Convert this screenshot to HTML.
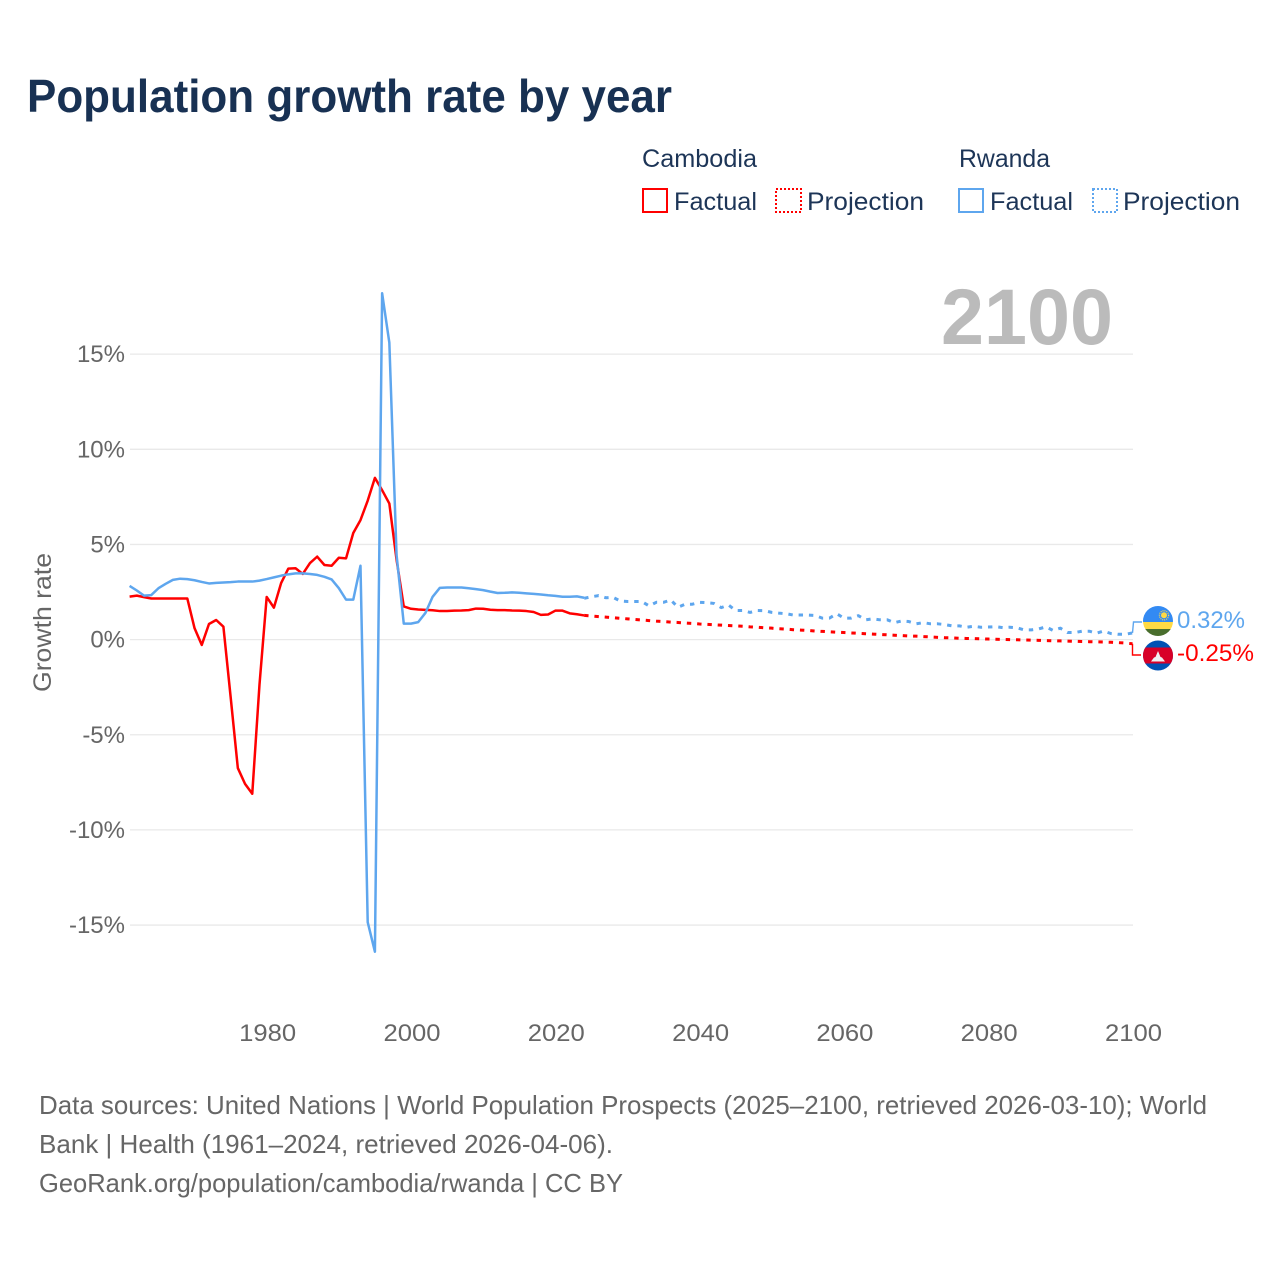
<!DOCTYPE html>
<html lang="en">
<head>
<meta charset="utf-8">
<title>Population growth rate by year</title>
<style>
html,body{margin:0;padding:0;background:#fff;width:1280px;height:1280px;overflow:hidden}
svg{display:block;font-family:"Liberation Sans",sans-serif}
</style>
</head>
<body>
<svg id="chart" xmlns="http://www.w3.org/2000/svg" width="1280" height="1280" viewBox="0 0 1280 1280">
  <rect x="0" y="0" width="1280" height="1280" fill="#fff"/>
  <text x="27" y="112" font-size="46" font-weight="700" fill="#183153" textLength="645" lengthAdjust="spacingAndGlyphs">Population growth rate by year</text>

  <g font-size="25" fill="#1d3557">
    <text x="642" y="167" textLength="115" lengthAdjust="spacingAndGlyphs">Cambodia</text>
    <text x="959" y="167" textLength="91" lengthAdjust="spacingAndGlyphs">Rwanda</text>
    <rect x="643" y="189" width="24" height="23" fill="none" stroke="#ff0000" stroke-width="2"/>
    <text x="674" y="210" textLength="83" lengthAdjust="spacingAndGlyphs">Factual</text>
    <rect x="776" y="189" width="25" height="23" fill="none" stroke="#ff0000" stroke-width="2" stroke-dasharray="2 2"/>
    <text x="807" y="210" textLength="117" lengthAdjust="spacingAndGlyphs">Projection</text>
    <rect x="959" y="189" width="24" height="23" fill="none" stroke="#5ea6ee" stroke-width="2"/>
    <text x="990" y="210" textLength="83" lengthAdjust="spacingAndGlyphs">Factual</text>
    <rect x="1093" y="189" width="24" height="23" fill="none" stroke="#5ea6ee" stroke-width="2" stroke-dasharray="2 2"/>
    <text x="1123" y="210" textLength="117" lengthAdjust="spacingAndGlyphs">Projection</text>
  </g>

  <g id="grid"></g>
  <text x="1113" y="344" text-anchor="end" font-size="79" font-weight="700" fill="#bbbbbb" textLength="172" lengthAdjust="spacingAndGlyphs">2100</text>
  <g id="yticks" font-size="24" fill="#666666" text-anchor="end"></g>
  <g id="xticks" font-size="24" fill="#666666" text-anchor="middle"></g>
  <text transform="translate(51 622.5) rotate(-90)" text-anchor="middle" font-size="25" fill="#666666" textLength="139" lengthAdjust="spacingAndGlyphs">Growth rate</text>
  <g id="series" fill="none" stroke-width="2.5" stroke-linejoin="round"></g>
  <g id="connectors" fill="none" stroke-width="1.4"></g>

  <defs>
    <clipPath id="clip-rw"><circle cx="1158" cy="621" r="15"/></clipPath>
    <clipPath id="clip-kh"><circle cx="1158" cy="655.5" r="15"/></clipPath>
  </defs>
  <g clip-path="url(#clip-rw)">
    <rect x="1143" y="606" width="30" height="16" fill="#338af3"/>
    <rect x="1143" y="622" width="30" height="7" fill="#ffda44"/>
    <rect x="1143" y="629" width="30" height="8" fill="#496e2d"/>
    <circle cx="1164" cy="615.3" r="3" fill="#ffda44"/>
    <circle cx="1164" cy="615.3" r="4.6" fill="none" stroke="#ffda44" stroke-width="1.2" stroke-dasharray="1 1"/>
  </g>
  <g clip-path="url(#clip-kh)">
    <rect x="1143" y="640" width="30" height="31" fill="#0052b4"/>
    <rect x="1143" y="647.5" width="30" height="16" fill="#d80027"/>
    <path d="M1151 661.5l3-4 1.5-.5 2.5-6 2.500 6 1.500.5 3 4z" fill="#f0f0f0"/>
  </g>
  <text id="label-rw" x="1177" y="628" font-size="24.500" fill="#5ea6ee" textLength="68" lengthAdjust="spacingAndGlyphs"></text>
  <text id="label-kh" x="1177" y="661" font-size="24.500" fill="#ff0000" textLength="77" lengthAdjust="spacingAndGlyphs"></text>

  <g font-size="26" fill="#666666">
    <text x="39" y="1114" textLength="1168" lengthAdjust="spacingAndGlyphs">Data sources: United Nations | World Population Prospects (2025–2100, retrieved 2026-03-10); World</text>
    <text x="39" y="1153" textLength="574" lengthAdjust="spacingAndGlyphs">Bank | Health (1961–2024, retrieved 2026-04-06).</text>
    <text x="39" y="1192" textLength="584" lengthAdjust="spacingAndGlyphs">GeoRank.org/population/cambodia/rwanda | CC BY</text>
  </g>
</svg>
<script>
const yTickValues = [15, 10, 5, 0, -5, -10, -15];
const xTickYears = [1980, 2000, 2020, 2040, 2060, 2080, 2100];
const factualStartYear = 1961;
const projectionStartYear = 2024;
const cambodiaFactual = [
  2.26,2.31,2.23,2.16,2.16,2.16,2.16,2.16,2.16,0.60,
  -0.28,0.82,1.03,0.68,-3.00,-6.75,-7.58,-8.10,-2.38,2.24,
  1.68,2.97,3.73,3.75,3.45,4.02,4.36,3.92,3.88,4.30,
  4.27,5.60,6.28,7.30,8.50,7.85,7.15,4.20,1.74,1.62,
  1.58,1.56,1.54,1.50,1.50,1.52,1.53,1.55,1.63,1.62,
  1.57,1.55,1.55,1.53,1.52,1.50,1.45,1.30,1.32,1.52,
  1.52,1.38,1.33,1.27];
const rwandaFactual = [
  2.82,2.58,2.31,2.34,2.70,2.93,3.14,3.20,3.18,3.12,
  3.03,2.95,2.98,3.00,3.02,3.05,3.05,3.05,3.10,3.18,
  3.27,3.36,3.43,3.48,3.48,3.45,3.40,3.30,3.16,2.70,
  2.10,2.10,3.88,-14.85,-16.40,18.20,15.60,4.45,0.84,0.84,
  0.92,1.40,2.25,2.72,2.74,2.74,2.74,2.70,2.65,2.60,
  2.52,2.45,2.46,2.48,2.46,2.43,2.40,2.37,2.33,2.30,
  2.25,2.25,2.27,2.20];
const cambodiaProjection = [
  1.27,
  1.24,1.21,1.18,1.15,1.12,1.09,
  1.06,1.03,1.00,0.97,0.95,0.92,0.90,0.87,0.85,0.82,
  0.80,0.78,0.76,0.74,0.72,0.70,0.67,0.65,0.62,0.60,
  0.57,0.55,0.52,0.50,0.48,0.45,0.43,0.41,0.39,0.37,
  0.35,0.33,0.31,0.29,0.27,0.25,0.23,0.21,0.19,0.18,
  0.16,0.14,0.12,0.10,0.09,0.07,0.06,0.05,0.04,0.03,
  0.02,0.01,0.00,-0.01,-0.02,-0.03,-0.04,-0.05,-0.06,-0.07,
  -0.08,-0.09,-0.10,-0.11,-0.12,-0.13,-0.14,-0.16,-0.18,-0.22];
const rwandaProjection = [
  2.17,
  2.25,2.31,2.20,2.22,2.03,2.00,
  2.00,2.00,1.77,1.96,1.96,2.08,1.70,1.86,1.86,1.96,
  1.94,1.90,1.68,1.82,1.53,1.53,1.43,1.53,1.52,1.43,
  1.39,1.36,1.29,1.29,1.29,1.27,1.13,1.13,1.36,1.13,
  1.13,1.26,1.04,1.09,1.04,1.04,0.89,0.98,0.95,0.83,
  0.89,0.83,0.83,0.79,0.72,0.72,0.65,0.70,0.65,0.66,
  0.68,0.63,0.65,0.62,0.51,0.51,0.56,0.67,0.48,0.60,
  0.37,0.37,0.44,0.44,0.34,0.45,0.32,0.28,0.28,0.35];
const endValues = { rwanda: 0.32, cambodia: -0.25 };

const NS = 'http://www.w3.org/2000/svg';
const x = year => 129.6 + (year - 1961) * (1002.9 / 139);
const y = pct => 639.6 - pct * 19.03;
function mk(parent, tag, attrs, text) {
  const el = document.createElementNS(NS, tag);
  for (const k in attrs) el.setAttribute(k, attrs[k]);
  if (text !== undefined) el.textContent = text;
  parent.appendChild(el);
  return el;
}
const gridG = document.getElementById('grid');
const yG = document.getElementById('yticks');
const xG = document.getElementById('xticks');
const seriesG = document.getElementById('series');
const connG = document.getElementById('connectors');

yTickValues.forEach(v => {
  const line = mk(gridG, 'line', { x1: 130, x2: 1133, y1: y(v), y2: y(v), stroke: '#e9e9e9', 'stroke-width': 1.3 });
  
  
  const label = mk(yG, 'text', { x: 125, y: y(v) + 8 }, v + '%');
  
  
});
xTickYears.forEach(t => {
  const label = mk(xG, 'text', { x: x(t) + 1, y: 1041, textLength: 57, lengthAdjust: 'spacingAndGlyphs' }, String(t));
  
  
});
function linePath(values, startYear) {
  return values.map((v, i) => (i ? 'L' : 'M') + x(startYear + i).toFixed(2) + ' ' + y(v).toFixed(2)).join('');
}
const cambodiaFactualLine = mk(seriesG, 'path', { d: linePath(cambodiaFactual, factualStartYear), stroke: '#ff0000' });


const rwandaFactualLine = mk(seriesG, 'path', { d: linePath(rwandaFactual, factualStartYear), stroke: '#5ea6ee' });


const cambodiaProjectionLine = mk(seriesG, 'path', { d: linePath(cambodiaProjection, projectionStartYear), stroke: '#ff0000', 'stroke-width': 3, 'stroke-dasharray': '4.4 5.9' });


const rwandaProjectionLine = mk(seriesG, 'path', { d: linePath(rwandaProjection, projectionStartYear), stroke: '#5ea6ee', 'stroke-width': 3, 'stroke-dasharray': '4.4 5.9' });



const endX = x(2100);
const rwConn = mk(connG, 'path', { d: 'M' + endX + ' ' + y(rwandaProjection[rwandaProjection.length - 1]) + 'L1133.500 622H1142', stroke: '#5ea6ee' });


const khConn = mk(connG, 'path', { d: 'M' + endX + ' ' + y(cambodiaProjection[cambodiaProjection.length - 1]) + 'V655H1141', stroke: '#ff0000' });



document.getElementById('label-rw').textContent = endValues.rwanda.toFixed(2) + '%';
document.getElementById('label-kh').textContent = endValues.cambodia.toFixed(2) + '%';
</script>
</body>
</html>
